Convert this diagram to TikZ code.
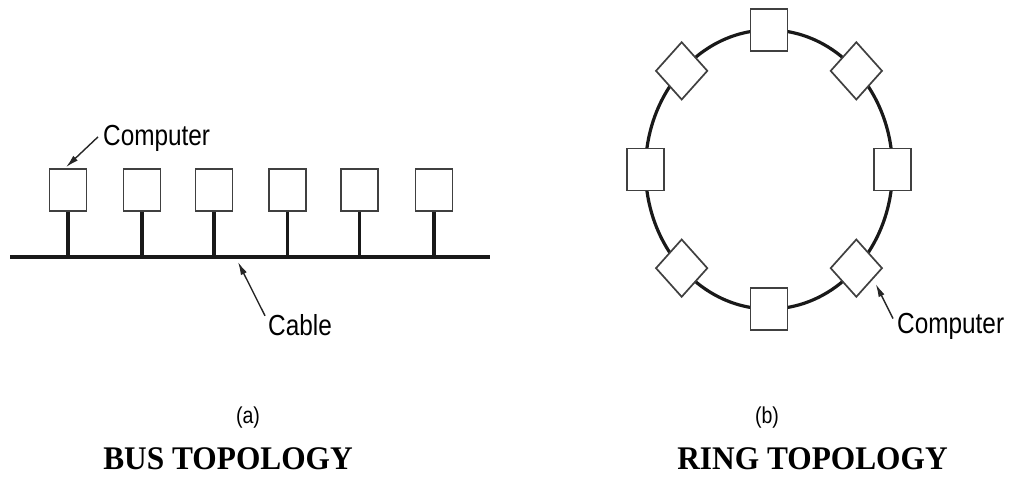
\documentclass[tikz,border=0pt]{standalone}
\usepackage{fontspec}
\setmainfont{Liberation Serif}
\newfontfamily\labfont{Liberation Sans}
\usetikzlibrary{shapes.geometric,arrows.meta,calc}

\tikzset{
  pc/.style={draw=black!75, line width=1.7pt, fill=white, rectangle,
             minimum width=37pt, minimum height=42pt, inner sep=0pt},
  pcdiamond/.style={draw=black!75, line width=1.7pt, fill=white, diamond,
             minimum width=52pt, minimum height=58pt, inner sep=0pt},
  wire/.style={line width=3.2pt, black!90},
  pointer/.style={line width=1.4pt, black!85,
             -{Latex[length=13pt,width=6.5pt]}},
  lab/.style={inner sep=0pt, xscale=0.84,
             font=\labfont\fontsize{29}{32}\selectfont},
  sublab/.style={inner sep=0pt, xscale=0.85,
             font=\labfont\fontsize{23}{26}\selectfont},
  title/.style={inner sep=0pt, xscale=0.95,
             font=\bfseries\fontsize{33}{36}\selectfont},
}

\begin{document}
\begin{tikzpicture}[x=1pt,y=-1pt]
\useasboundingbox (0,0) rectangle (1012,477);

% ---------- (a) bus ----------
\coordinate (cableL) at (10,257);
\coordinate (cableR) at (490,257);
\draw[wire] (cableL) -- (cableR);
\foreach \i/\x in {1/68,2/142,3/214,4/287.5,5/359.5,6/434}{
  \node[pc] (b\i) at (\x,190) {};
  \draw[wire] (b\i.south) -- (b\i.south |- cableL);
}
\node[lab, anchor=base west] (labA) at (103,145) {Computer};
\draw[pointer] ($(labA.west)+(-5,-1)$) -- ($(b1.north)+(-2,-1)$);

\coordinate (cabtip) at (238,262);
\node[lab, anchor=base west] (cab) at (268,335) {Cable};
\draw[pointer] ($(cab.north west)+(-3,2)$) -- (cabtip);

\node[sublab, anchor=base] (capA) at (248,423) {(a)};
\node[title, anchor=base] (titA) at (228,469) {BUS TOPOLOGY};

% ---------- (b) ring ----------
\coordinate (ring) at (769,169.5);
\draw[wire] (ring) ellipse [x radius=123.5, y radius=139.5];
\foreach \a/\n in {90/r1,0/r3,180/r7,270/r5}{
  \node[pc] (\n) at ($(ring)+({123.5*cos(\a)},{-139.5*sin(\a)})$) {};
}
\foreach \a/\n in {45/r2,135/r8,225/r6,315/r4}{
  \node[pcdiamond] (\n) at ($(ring)+({123.5*cos(\a)},{-139.5*sin(\a)})$) {};
}
\node[lab, anchor=base west] (labB) at (897,333) {Computer};
\draw[pointer] ($(labB.north west)+(-4,6)$) -- ($(r4.south east)+(6,1)$);

\node[sublab, anchor=base] (capB) at (767,423) {(b)};
\node[title, anchor=base] (titB) at (812.5,469) {RING TOPOLOGY};
\end{tikzpicture}
\end{document}
